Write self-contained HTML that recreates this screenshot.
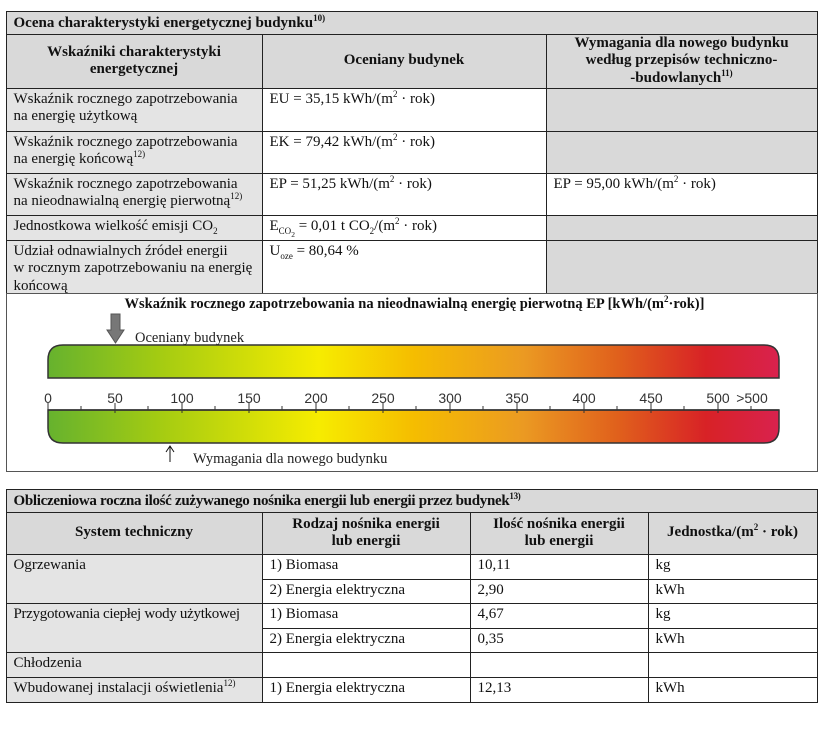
<!DOCTYPE html>
<html><head><meta charset="utf-8"><style>
body{margin:0;width:829px;height:733px;background:#fff;position:relative;font-family:"Liberation Serif",serif;color:#111;overflow:hidden}
.c{position:absolute;box-sizing:border-box;border:1px solid #222;font-size:15px;line-height:17.5px;padding:2px 7px;margin:-0.5px}
.g{background:#e4e4e4}.h{background:#d9d9d9}
.b{font-weight:bold;text-align:center;display:flex;align-items:center;justify-content:center}
sup{font-size:9px;line-height:0}
</style></head><body>
<!-- top table -->
<div class="c h" style="left:6px;top:11px;width:812px;height:24px;font-weight:bold;padding-top:3px">Ocena charakterystyki energetycznej budynku<sup>10)</sup></div>
<div class="c h b" style="left:6px;top:34px;width:257px;height:55px"><span>Wskaźniki charakterystyki<br>energetycznej</span></div>
<div class="c h b" style="left:262px;top:34px;width:285px;height:55px"><span>Oceniany budynek</span></div>
<div class="c h b" style="left:546px;top:34px;width:272px;height:55px"><span>Wymagania dla nowego budynku<br>według przepisów techniczno-<br>-budowlanych<sup>11)</sup></span></div>

<div class="c g" style="left:6px;top:88px;width:257px;height:44px">Wskaźnik rocznego zapotrzebowania<br>na energię użytkową</div>
<div class="c" style="left:262px;top:88px;width:285px;height:44px">EU = 35,15 kWh/(m<sup>2</sup> · rok)</div>
<div class="c h" style="left:546px;top:88px;width:272px;height:44px"></div>

<div class="c g" style="left:6px;top:131px;width:257px;height:43px">Wskaźnik rocznego zapotrzebowania<br>na energię końcową<sup>12)</sup></div>
<div class="c" style="left:262px;top:131px;width:285px;height:43px">EK = 79,42 kWh/(m<sup>2</sup> · rok)</div>
<div class="c h" style="left:546px;top:131px;width:272px;height:43px"></div>

<div class="c g" style="left:6px;top:173px;width:257px;height:43px">Wskaźnik rocznego zapotrzebowania<br>na nieodnawialną energię pierwotną<sup>12)</sup></div>
<div class="c" style="left:262px;top:173px;width:285px;height:43px">EP = 51,25 kWh/(m<sup>2</sup> · rok)</div>
<div class="c" style="left:546px;top:173px;width:272px;height:43px">EP = 95,00 kWh/(m<sup>2</sup> · rok)</div>

<div class="c g" style="left:6px;top:215px;width:257px;height:26px">Jednostkowa wielkość emisji CO<sub style="font-size:9px">2</sub></div>
<div class="c" style="left:262px;top:215px;width:285px;height:26px">E<sub style="font-size:9px">CO<sub>2</sub></sub> = 0,01 t CO<sub style="font-size:9px">2</sub>/(m<sup>2</sup> · rok)</div>
<div class="c h" style="left:546px;top:215px;width:272px;height:26px"></div>

<div class="c g" style="left:6px;top:240px;width:257px;height:54px">Udział odnawialnych źródeł energii<br>w rocznym zapotrzebowaniu na energię<br>końcową</div>
<div class="c" style="left:262px;top:240px;width:285px;height:54px">U<sub style="font-size:9px">oze</sub> = 80,64 %</div>
<div class="c h" style="left:546px;top:240px;width:272px;height:54px"></div>

<div class="c" style="left:6px;top:293px;width:812px;height:179px;border-color:#555"></div>
<div style="position:absolute;left:0;width:829px;top:296px;text-align:center;font-weight:bold;font-size:14.5px">Wskaźnik rocznego zapotrzebowania na nieodnawialną energię pierwotną EP [kWh/(m<sup>2</sup>·rok)]</div>

<svg style="position:absolute;left:0;top:0" width="829" height="733">
<defs><linearGradient id="gr" x1="48" x2="779" gradientUnits="userSpaceOnUse">
<stop offset="0" stop-color="#66b22e"/><stop offset="0.15" stop-color="#a3cb12"/><stop offset="0.37" stop-color="#f6ec00"/><stop offset="0.5" stop-color="#f5bd00"/><stop offset="0.65" stop-color="#eb9a22"/><stop offset="0.78" stop-color="#e0601c"/><stop offset="0.9" stop-color="#d82226"/><stop offset="1" stop-color="#d9224e"/></linearGradient></defs>
<path d="M48,378 V360 Q48,345 63,345 H764 Q779,345 779,360 V378 Z" fill="url(#gr)" stroke="#333" stroke-width="1.5"/>
<path d="M48,410 V428 Q48,443 63,443 H764 Q779,443 779,428 V410 Z" fill="url(#gr)" stroke="#333" stroke-width="1.5"/>
<line x1="48" y1="410" x2="779" y2="410" stroke="#333" stroke-width="1.5"/>
<g stroke="#333" stroke-width="1">
<line x1="48" y1="403" x2="48" y2="413"/><line x1="115" y1="403" x2="115" y2="413"/><line x1="182" y1="403" x2="182" y2="413"/><line x1="249" y1="403" x2="249" y2="413"/><line x1="316" y1="403" x2="316" y2="413"/><line x1="383" y1="403" x2="383" y2="413"/><line x1="450" y1="403" x2="450" y2="413"/><line x1="517" y1="403" x2="517" y2="413"/><line x1="584" y1="403" x2="584" y2="413"/><line x1="651" y1="403" x2="651" y2="413"/><line x1="718" y1="403" x2="718" y2="413"/>
<line x1="81" y1="406" x2="81" y2="410"/><line x1="148" y1="406" x2="148" y2="410"/><line x1="215" y1="406" x2="215" y2="410"/><line x1="282" y1="406" x2="282" y2="410"/><line x1="349" y1="406" x2="349" y2="410"/><line x1="416" y1="406" x2="416" y2="410"/><line x1="483" y1="406" x2="483" y2="410"/><line x1="550" y1="406" x2="550" y2="410"/><line x1="617" y1="406" x2="617" y2="410"/><line x1="684" y1="406" x2="684" y2="410"/><line x1="751" y1="406" x2="751" y2="410"/>
</g>
<g font-family="Liberation Sans,sans-serif" font-size="14" fill="#333" text-anchor="middle">
<text x="48" y="403">0</text><text x="115" y="403">50</text><text x="182" y="403">100</text><text x="249" y="403">150</text><text x="316" y="403">200</text><text x="383" y="403">250</text><text x="450" y="403">300</text><text x="517" y="403">350</text><text x="584" y="403">400</text><text x="651" y="403">450</text><text x="718" y="403">500</text><text x="752" y="403">&gt;500</text>
</g>
<path d="M111,314 H120 V330 H124 L115.5,343 L107,330 H111 Z" fill="#777" stroke="#555"/>
<line x1="170" y1="447" x2="170" y2="462" stroke="#111"/><path d="M166,452 L170,446 L174,452" fill="none" stroke="#111"/>
<text x="135" y="342" font-family="Liberation Serif,serif" font-size="14.5" fill="#222">Oceniany budynek</text>
<text x="193" y="463" font-family="Liberation Serif,serif" font-size="14.5" fill="#222">Wymagania dla nowego budynku</text>
</svg>

<!-- bottom table -->
<div class="c h" style="left:6px;top:489px;width:812px;height:24px;font-weight:bold;padding-top:3px;letter-spacing:-0.3px">Obliczeniowa roczna ilość zużywanego nośnika energii lub energii przez budynek<sup>13)</sup></div>
<div class="c h b" style="left:6px;top:512px;width:257px;height:43px"><span>System techniczny</span></div>
<div class="c h b" style="left:262px;top:512px;width:209px;height:43px"><span>Rodzaj nośnika energii<br>lub energii</span></div>
<div class="c h b" style="left:470px;top:512px;width:179px;height:43px"><span>Ilość nośnika energii<br>lub energii</span></div>
<div class="c h b" style="left:648px;top:512px;width:170px;height:43px"><span>Jednostka/(m<sup>2</sup> · rok)</span></div>

<div class="c g" style="left:6px;top:554px;width:257px;height:50px">Ogrzewania</div>
<div class="c" style="left:262px;top:554px;width:209px;height:26px">1) Biomasa</div>
<div class="c" style="left:470px;top:554px;width:179px;height:26px">10,11</div>
<div class="c" style="left:648px;top:554px;width:170px;height:26px">kg</div>
<div class="c" style="left:262px;top:579px;width:209px;height:25px">2) Energia elektryczna</div>
<div class="c" style="left:470px;top:579px;width:179px;height:25px">2,90</div>
<div class="c" style="left:648px;top:579px;width:170px;height:25px">kWh</div>

<div class="c g" style="left:6px;top:603px;width:257px;height:50px;letter-spacing:-0.3px">Przygotowania ciepłej wody użytkowej</div>
<div class="c" style="left:262px;top:603px;width:209px;height:26px">1) Biomasa</div>
<div class="c" style="left:470px;top:603px;width:179px;height:26px">4,67</div>
<div class="c" style="left:648px;top:603px;width:170px;height:26px">kg</div>
<div class="c" style="left:262px;top:628px;width:209px;height:25px">2) Energia elektryczna</div>
<div class="c" style="left:470px;top:628px;width:179px;height:25px">0,35</div>
<div class="c" style="left:648px;top:628px;width:170px;height:25px">kWh</div>

<div class="c g" style="left:6px;top:652px;width:257px;height:26px">Chłodzenia</div>
<div class="c" style="left:262px;top:652px;width:209px;height:26px"></div>
<div class="c" style="left:470px;top:652px;width:179px;height:26px"></div>
<div class="c" style="left:648px;top:652px;width:170px;height:26px"></div>

<div class="c g" style="left:6px;top:677px;width:257px;height:26px">Wbudowanej instalacji oświetlenia<sup>12)</sup></div>
<div class="c" style="left:262px;top:677px;width:209px;height:26px">1) Energia elektryczna</div>
<div class="c" style="left:470px;top:677px;width:179px;height:26px">12,13</div>
<div class="c" style="left:648px;top:677px;width:170px;height:26px">kWh</div>
</body></html>
